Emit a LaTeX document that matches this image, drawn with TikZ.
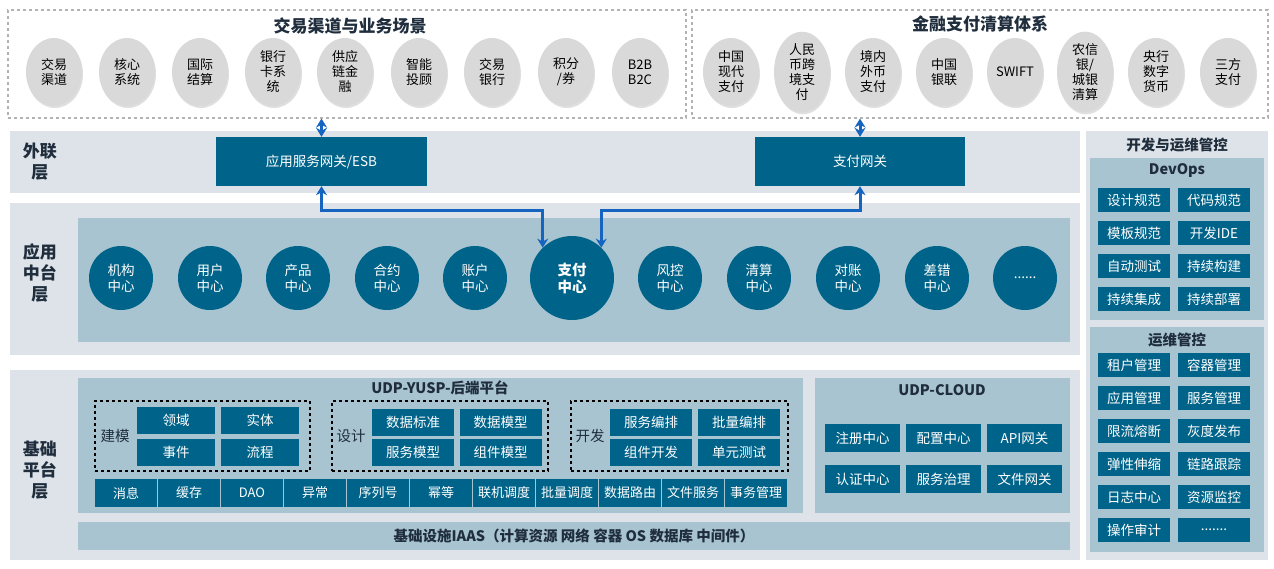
\documentclass[tikz,border=0pt]{standalone}
\usepackage{fontspec}
\setmainfont{Noto Sans CJK SC}
\usetikzlibrary{positioning,calc,shadows,arrows.meta,shapes.geometric}
\definecolor{teal}{HTML}{00648A}
\definecolor{band}{HTML}{DDE3E8}
\definecolor{panel}{HTML}{A8C4D0}
\definecolor{chgray}{HTML}{D9D9D9}
\definecolor{arblue}{HTML}{1565C0}
\definecolor{ink}{HTML}{1F2D3D}
\tikzset{
  tbox/.style={fill=teal,text=white,inner sep=0pt,font=\fontsize{13.5}{15}\selectfont},
  chan/.style={ellipse,fill=chgray,minimum width=56pt,minimum height=68pt,inner sep=0pt,align=center,
    drop shadow={opacity=0.25,shadow xshift=1pt,shadow yshift=-2pt},font=\fontsize{13}{15}\selectfont},
  ctr/.style={circle,fill=teal,text=white,minimum size=64pt,inner sep=0pt,align=center,
    font=\fontsize{13.5}{16}\selectfont},
  dashbox/.style={draw=gray!60,dashed,line width=1.2pt,inner sep=0pt},
  grp/.style={draw=black,dashed,line width=1.2pt,inner sep=0pt},
  layer/.style={text=ink,align=center,font=\bfseries\fontsize{17}{21}\selectfont},
  ttl/.style={text=ink,font=\bfseries\fontsize{17}{20}\selectfont},
  sub/.style={text=ink,font=\bfseries\fontsize{14.5}{17}\selectfont},
  dbl/.style={arblue,line width=3pt,{Stealth[length=9pt,width=11pt]}-{Stealth[length=9pt,width=11pt]}},
}
\begin{document}
\begin{tikzpicture}[x=1pt,y=-1pt]
\useasboundingbox (0,0) rectangle (1274,568);
% bands
\fill[band] (10,131) rectangle (1080,193);
\fill[band] (10,203) rectangle (1080,355);
\fill[band] (10,370) rectangle (1080,560);
\fill[band] (1086,131) rectangle (1268,560);
\fill[panel] (78,218) rectangle (1070,342);
\fill[panel] (78,378) rectangle (803,513);
\fill[panel] (815,378) rectangle (1070,513);
\fill[panel] (1090,158) rectangle (1264,320);
\fill[panel] (1090,327) rectangle (1264,552);
% top dashed boxes
\node[dashbox,minimum width=678pt,minimum height=108pt] (chn) at (347,64) {};
\node[dashbox,minimum width=576pt,minimum height=108pt] (clr) at (980,64) {};
\node[ttl] at (350,26) {交易渠道与业务场景};
\node[ttl] at (980,24) {金融支付清算体系};
\foreach \x/\t [count=\i] in {54/交易\\渠道,127/核心\\系统,200/国际\\结算,273/银行\\卡系\\统,345/供应\\链金\\融,419/智能\\投顾,492/交易\\银行,566/{积分\\/券},640/B2B\\B2C}
  \node[chan] (c\i) at (\x,72) {\t};
\foreach \x/\t [count=\i] in {731/中国\\现代\\支付,802/人民\\币跨\\境支\\付,873/境内\\外币\\支付,944/中国\\银联,1015/SWIFT,1085/{农信\\银/\\城银\\清算},1156/央行\\数字\\货币,1228/三方\\支付}
  \node[chan] (p\i) at (\x,72) {\t};
% layer labels
\node[layer] at (40,162) {外联\\层};
\node[layer] at (40,273) {应用\\中台\\层};
\node[layer] at (40,470) {基础\\平台\\层};
% gateways
\node[tbox,minimum width=211pt,minimum height=49pt] (esb) at (321.5,161.5) {应用服务网关/ESB};
\node[tbox,minimum width=210pt,minimum height=49pt] (pgw) at (860,161.5) {支付网关};
% centers
\foreach \x/\t [count=\i] in {121/机构\\中心,210/用户\\中心,298/产品\\中心,387/合约\\中心,475/账户\\中心,670/风控\\中心,759/清算\\中心,848/对账\\中心,937/差错\\中心,1025/{......}}
  \node[ctr] (m\i) at (\x,278) {\t};
\node[ctr,minimum size=84pt,font=\bfseries\fontsize{14.5}{17}\selectfont] (zf) at (572,278) {支付\\中心};
% arrows
\draw[dbl] (esb.north) -- (esb.north |- chn.south);
\draw[dbl] (pgw.north) -- (pgw.north |- clr.south);
\draw[dbl] (esb.south) -- ++(0,24) -| (zf.134);
\draw[dbl] (pgw.south) -- ++(0,24) -| (zf.46);
% UDP-YUSP
\node[sub] at (440,388) {UDP-YUSP-后端平台};
\node[grp,minimum width=215pt,minimum height=70pt] (g1) at (202.5,436) {};
\node[grp,minimum width=216pt,minimum height=70pt] (g2) at (440,436) {};
\node[grp,minimum width=217pt,minimum height=70pt] (g3) at (679.5,436) {};
\node[text=ink,font=\fontsize{14.5}{17}\selectfont] at (115,436) {建模};
\node[text=ink,font=\fontsize{14.5}{17}\selectfont] at (351,436) {设计};
\node[text=ink,font=\fontsize{14.5}{17}\selectfont] at (590,436) {开发};
\foreach \x/\y/\t [count=\i] in {176/420.5/领域,260/420.5/实体,176/452.5/事件,260/452.5/流程}
  \node[tbox,minimum width=78pt,minimum height=27pt] (a\i) at (\x,\y) {\t};
\foreach \x/\y/\t [count=\i] in {413/422/数据标准,500.5/422/数据模型,413/452/服务模型,500.5/452/组件模型}
  \node[tbox,minimum width=82pt,minimum height=27pt] (b\i) at (\x,\y) {\t};
\foreach \x/\y/\t [count=\i] in {651/422/服务编排,739/422/批量编排,651/452/组件开发,739/452/单元测试}
  \node[tbox,minimum width=82pt,minimum height=27pt] (d\i) at (\x,\y) {\t};
\foreach \t [count=\i] in {消息,缓存,DAO,异常,序列号,幂等,联机调度,批量调度,数据路由,文件服务,事务管理}
  \node[tbox,minimum width=62pt,minimum height=28pt,font=\fontsize{13}{15}\selectfont] (r\i) at ({95+31+(\i-1)*63},493) {\t};
% IAAS
\node[sub,minimum width=992pt,minimum height=28pt,fill=panel] (iaas) at (574,536) {基础设施IAAS（计算资源 网络 容器 OS 数据库 中间件）};
% UDP-CLOUD
\node[sub] at (942,390) {UDP-CLOUD};
\foreach \x/\y/\t [count=\i] in {862.5/438/注册中心,943.5/438/配置中心,1024.5/438/API网关,862.5/479/认证中心,943.5/479/服务治理,1024.5/479/文件网关}
  \node[tbox,minimum width=75pt,minimum height=28pt] (u\i) at (\x,\y) {\t};
% right column
\node[sub] at (1177,145) {开发与运维管控};
\node[sub] at (1177,171) {DevOps};
\node[sub] at (1177,340) {运维管控};
\foreach \y/\l/\r [count=\i] in {200/设计规范/代码规范,233/模板规范/开发IDE,266/自动测试/持续构建,299/持续集成/持续部署}{
  \node[tbox,minimum width=72pt,minimum height=24pt] (dl\i) at (1134,\y) {\l};
  \node[tbox,minimum width=72pt,minimum height=24pt] (dr\i) at (1214,\y) {\r};}
\foreach \y/\l/\r [count=\i] in {365/租户管理/容器管理,398/应用管理/服务管理,431/限流熔断/灰度发布,464/弹性伸缩/链路跟踪,497/日志中心/资源监控,530/操作审计/{.......}}{
  \node[tbox,minimum width=72pt,minimum height=24pt] (ol\i) at (1134,\y) {\l};
  \node[tbox,minimum width=72pt,minimum height=24pt] (or\i) at (1214,\y) {\r};}
\end{tikzpicture}
\end{document}
